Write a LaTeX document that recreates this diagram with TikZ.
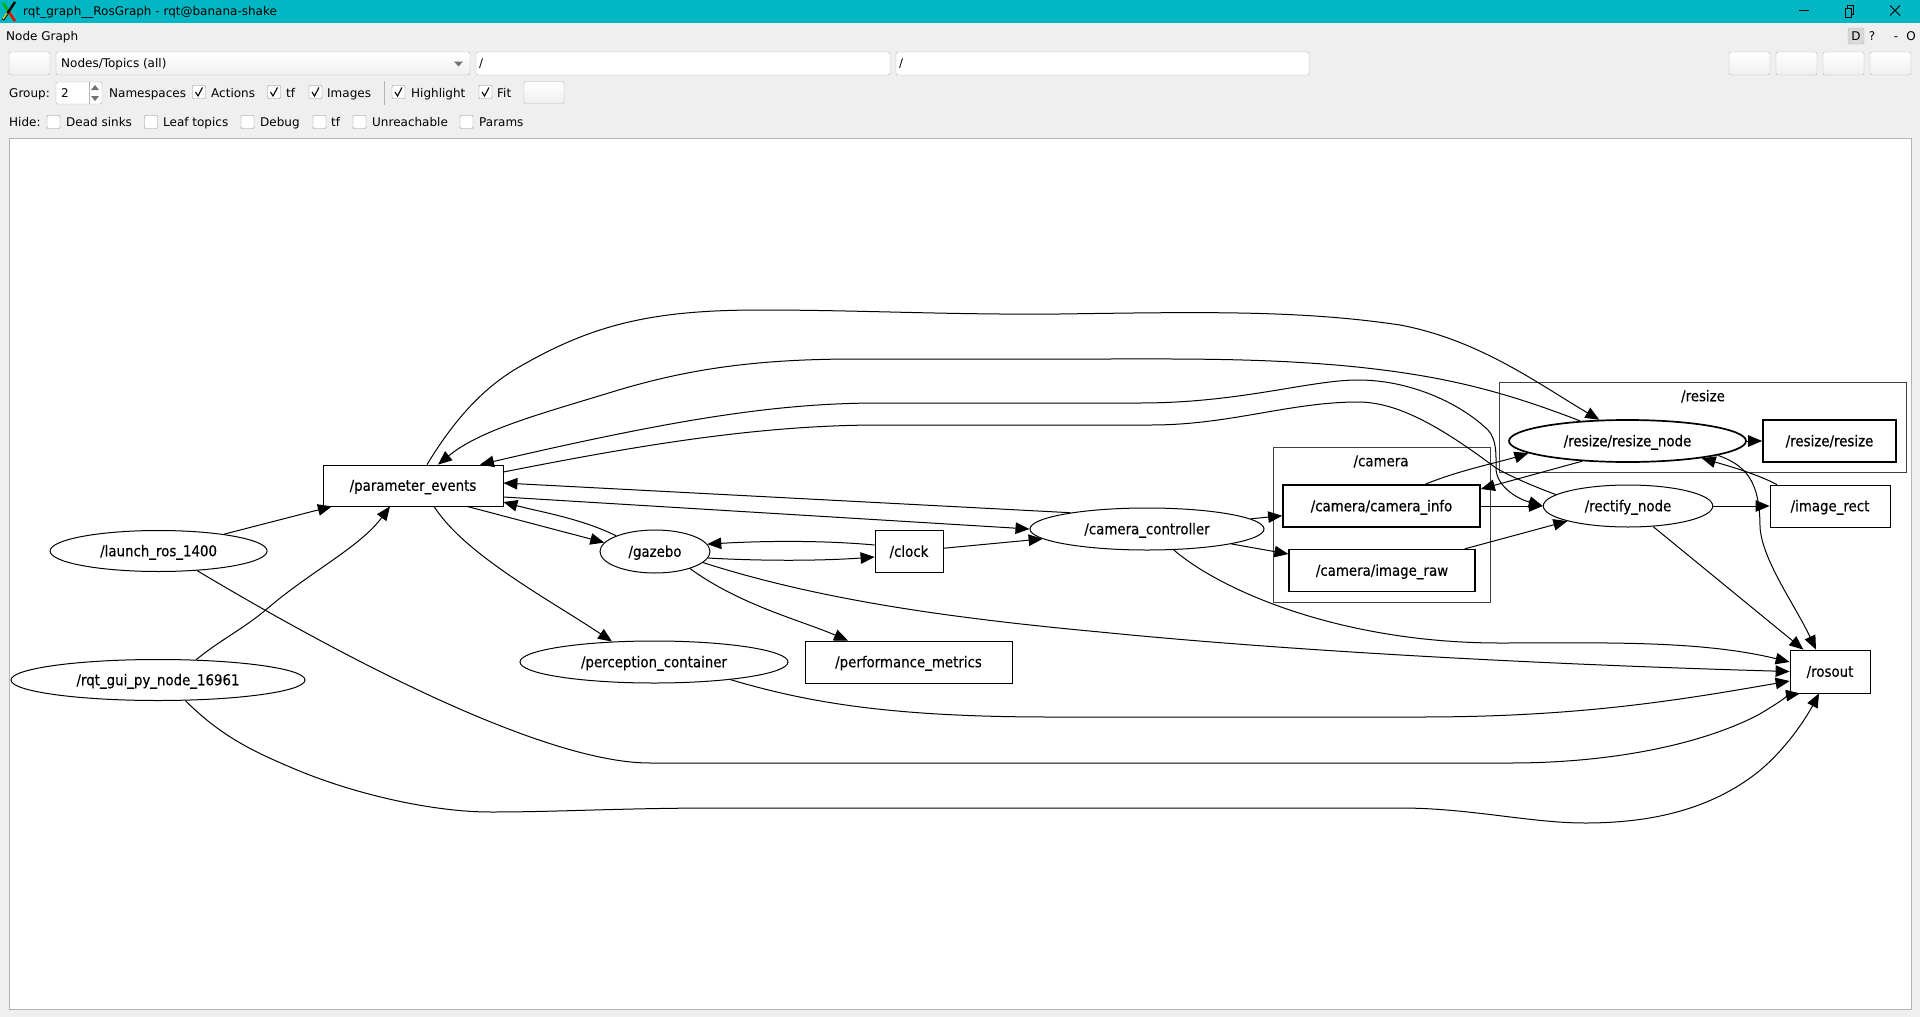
\documentclass[tikz,border=0pt]{standalone}
\usepackage{fontspec}
\usetikzlibrary{arrows.meta,shapes.geometric}
\setmainfont{DejaVu Sans}
\newfontfamily\graphfont{DejaVu Sans}[FakeStretch=0.89,FakeBold=0.25]
\newfontfamily\graphfontbold{DejaVu Sans}[FakeStretch=0.89,FakeBold=0.7]
\definecolor{titleteal}{HTML}{00B7C3}
\definecolor{windowgray}{HTML}{EFEFEF}
\definecolor{framegray}{HTML}{B4B4B4}
\tikzset{
  uitext/.style={anchor=west,inner sep=0pt,text height=11pt,text depth=2.5pt,font=\fontsize{12}{14}\selectfont},
  uibutton/.style={draw=framegray,rounded corners=2pt,top color=white,bottom color=windowgray,minimum height=23pt,inner sep=0pt},
  uientry/.style={draw=framegray,rounded corners=2pt,fill=white,minimum height=23pt,inner sep=0pt},
  checkbox/.style={draw=black!45,rounded corners=1pt,fill=white,minimum width=13pt,minimum height=13pt,inner sep=0pt},
  checkmark/.style={line width=1.1pt},
  graphtext/.style={font=\graphfont\fontsize{15}{17}\selectfont,text height=13pt,text depth=2.5pt,inner sep=0pt},
  topicbox/.style={graphtext,draw,line width=.8pt,rectangle},
  nodeoval/.style={graphtext,draw,line width=1pt,ellipse},
  highlighted/.style={line width=1.7pt,font=\graphfontbold\fontsize{15}{17}\selectfont},
  clusterbox/.style={draw=black!75,line width=.8pt,rectangle,inner sep=0pt},
  topicedge/.style={draw,line width=1pt,-{Triangle[length=14pt,width=11.5pt]}}
}
\begin{document}
\begin{tikzpicture}[x=1pt,y=-1pt]
\useasboundingbox (0,0) rectangle (1920,1017);
\fill[windowgray] (0,0) rectangle (1920,1017);
\fill[titleteal] (0,0) rectangle (1920,23);
\fill[white] (9,138) rectangle (1911,1009);
\draw[framegray] (9,138) rectangle (1911,1009);

\draw[line width=2.4pt,green!70!black] (3,3) -- (14,20);
\draw[line width=2.4pt,red] (9,12) -- (15,21);
\draw[line width=2.4pt,black] (15,2) -- (3,20);
\draw[line width=1.6pt,yellow!80!black] (3,19) -- (7,13);
\node[uitext] (window_title) at (23,11) {rqt\_graph\_\_RosGraph - rqt@banana-shake};
\draw[line width=.8pt] (1799,10.5) -- (1809,10.5);
\draw[line width=.8pt] (1845,8) rectangle (1851,17);
\draw[line width=.8pt] (1847,8) -- (1847,5.5) -- (1853,5.5) -- (1853,14) -- (1851,14);
\draw[line width=.8pt] (1890,5.5) -- (1900,15.5);
\draw[line width=.8pt] (1900,5.5) -- (1890,15.5);

\node[uitext] (plugin_title) at (6,36) {Node Graph};
\draw[framegray,rounded corners=1.5pt,fill=black!15] (1848,28) rectangle (1864,44);
\node[uitext,anchor=center] (help_d) at (1856,36) {D};
\node[uitext,anchor=center] (help_q) at (1872,36) {?};
\node[uitext,anchor=center] (help_dash) at (1896,36) {-};
\node[uitext,anchor=center] (help_o) at (1911,36) {O};

\node[uibutton,minimum width=41pt] (refresh_btn) at (29.5,63.5) {};
\node[uibutton,minimum width=414pt] (mode_combo) at (263,63.5) {};
\node[uitext] (mode_text) at (61,63.5) {Nodes/Topics (all)};
\fill[black!55] (454,61.5) -- (463,61.5) -- (458.5,66.5) -- cycle;
\node[uientry,minimum width=414pt] (ns_entry) at (683,63.5) {};
\node[uitext] (ns_text) at (479,63.5) {/};
\node[uientry,minimum width=413pt] (topic_entry) at (1102.5,63.5) {};
\node[uitext] (topic_text) at (899,63.5) {/};
\foreach \x/\name in {1749.5/load,1796.5/save,1843.5/png,1890.5/svg} {
  \node[uibutton,minimum width=41pt] (\name_btn) at (\x,63.5) {};
}

\node[uitext] (group_text) at (9,93) {Group:};
\node[uientry,minimum width=46pt,minimum height=22pt] (group_spin) at (79,93) {};
\node[uitext] (group_value) at (61,93) {2};
\draw[framegray] (89,82) -- (89,104);
\fill[black!55] (91,90) -- (99,90) -- (95,85) -- cycle;
\fill[black!55] (91,96) -- (99,96) -- (95,101) -- cycle;
\node[uitext] (namespaces_text) at (109,93) {Namespaces};
\foreach \x/\label/\tx/\name in {199/Actions/211/actions,274/tf/286/tf,315.5/Images/327/images,398.5/Highlight/411/highlight,485.5/Fit/497/fit} {
  \node[checkbox] (\name_chk) at (\x,92) {};
  \draw[checkmark] (\x-3.5,92) -- (\x-1,96) -- (\x+3.5,87.5);
  \node[uitext] (\name_text) at (\tx,93) {\label};
}
\draw[framegray] (384,81) -- (384,105);
\node[uibutton,minimum width=40pt,minimum height=22pt] (fit_btn) at (544,92.5) {};

\node[uitext] (hide_text) at (9,122) {Hide:};
\foreach \x/\label/\tx/\name in {53.5/Dead sinks/66/sinks,151/Leaf topics/163/leaf,247.5/Debug/260/debug,319.5/tf/331/hidetf,359.5/Unreachable/372/unreach,466.5/Params/479/params} {
  \node[checkbox] (\name_chk) at (\x,122) {};
  \node[uitext] (\name_text) at (\tx,122) {\label};
}

\node[clusterbox,minimum width=407.5pt,minimum height=90pt] (resize_cluster) at (1703,427) {};
\node[graphtext] (resize_label) at (1703,396) {/resize};
\node[clusterbox,minimum width=217pt,minimum height=155pt] (camera_cluster) at (1381.5,524.5) {};
\node[graphtext] (camera_label) at (1381,461) {/camera};

\node[topicbox,minimum width=180pt,minimum height=41pt] (parameter_events) at (413,485.5) {/parameter\_events};
\node[nodeoval,minimum width=217pt,minimum height=41pt] (launch_ros) at (158.6,551) {/launch\_ros\_1400};
\node[nodeoval,minimum width=294pt,minimum height=41pt] (rqt_gui) at (158,680) {/rqt\_gui\_py\_node\_16961};
\node[nodeoval,minimum width=110pt,minimum height=43pt] (gazebo) at (655,551.5) {/gazebo};
\node[topicbox,minimum width=68pt,minimum height=42pt] (clock) at (909,551.5) {/clock};
\node[nodeoval,minimum width=268pt,minimum height=42pt] (perception) at (654,662) {/perception\_container};
\node[topicbox,minimum width=207pt,minimum height=42pt] (performance) at (908.5,662) {/performance\_metrics};
\node[nodeoval,minimum width=234pt,minimum height=42pt] (camera_controller) at (1147,529) {/camera\_controller};
\node[topicbox,highlighted,minimum width=197pt,minimum height=42pt] (camera_info) at (1381.5,506) {/camera/camera\_info};
\node[topicbox,minimum width=186pt,minimum height=42pt,line width=1.2pt] (image_raw) at (1382,570.5) {/camera/image\_raw};
\node[nodeoval,highlighted,minimum width=237pt,minimum height=42pt] (resize_node) at (1627.5,441) {/resize/resize\_node};
\node[topicbox,highlighted,minimum width=133pt,minimum height=42pt] (resize_topic) at (1829.5,441) {/resize/resize};
\node[nodeoval,minimum width=169.5pt,minimum height=42pt] (rectify_node) at (1628,506) {/rectify\_node};
\node[topicbox,minimum width=120pt,minimum height=42pt] (image_rect) at (1830,506) {/image\_rect};
\node[topicbox,minimum width=80pt,minimum height=43pt] (rosout) at (1830,671.5) {/rosout};

\draw[topicedge] (launch_ros) -- (parameter_events);
\draw[topicedge] (rqt_gui.28) .. controls (220,640) and (245,628) .. (268,608) .. controls (310,572) and (360,547) .. ([xshift=-23pt]parameter_events.south);
\draw[topicedge] ([xshift=14pt]parameter_events.north) .. controls (460,410) and (490,385) .. (514,370) .. controls (590,325) and (650,310) .. (760,310) .. controls (860,310) and (950,315) .. (1060,314) .. controls (1200,312) and (1300,310) .. (1400,325) .. controls (1480,340) and (1540,385) .. (resize_node.143);
\draw[topicedge] (resize_node.157) .. controls (1500,390) and (1440,375) .. (1347,366) .. controls (1260,358) and (1180,359) .. (1102,359) .. controls (1000,359) and (930,359) .. (857,359) .. controls (760,359) and (690,368) .. (612,392) .. controls (540,414) and (480,430) .. ([xshift=25pt]parameter_events.north);
\draw[topicedge] (rectify_node.171) .. controls (1530,485) and (1510,476) .. (1496,468) .. controls (1496,455) and (1497,440) .. (1488,430) .. controls (1460,403) and (1410,380) .. (1358,380) .. controls (1310,380) and (1240,403) .. (1140,403) -- (880,403) .. controls (780,403) and (680,418) .. ([xshift=67pt]parameter_events.north);
\draw[topicedge] ([yshift=13.5pt]parameter_events.east) .. controls (640,445) and (760,425) .. (880,425) -- (1151,425) .. controls (1230,425) and (1290,402) .. (1358,402) .. controls (1400,402) and (1445,430) .. (1496,468) .. controls (1496,485) and (1515,498) .. (rectify_node.west);
\draw[topicedge] ([xshift=54pt]parameter_events.south) -- (gazebo.170);
\draw[topicedge] (gazebo.158) .. controls (580,518) and (540,512) .. ([yshift=-16.5pt]parameter_events.east);
\draw[topicedge] (camera_controller.168) -- ([yshift=2.5pt]parameter_events.east);
\draw[topicedge] ([yshift=-11.5pt]parameter_events.east) -- (camera_controller.west);
\draw[topicedge] ([yshift=6.5pt]clock.west) .. controls (820,540) and (760,541) .. (gazebo.8);
\draw[topicedge] (gazebo.-7) .. controls (760,561) and (820,561) .. ([yshift=-5.5pt]clock.west);
\draw[topicedge] (clock) -- (camera_controller);
\draw[topicedge] ([xshift=21pt]parameter_events.south) .. controls (465,555) and (550,600) .. (perception.154);
\draw[topicedge] (gazebo.-26) .. controls (740,605) and (800,620) .. ([xshift=-60.5pt]performance.north);
\draw[topicedge] (gazebo.-13) .. controls (820,600) and (950,618) .. (1100,632) .. controls (1300,652) and (1560,665) .. (rosout.west);
\draw[topicedge] (camera_controller.-38) .. controls (1220,590) and (1340,643) .. (1500,643) .. controls (1600,643) and (1700,640) .. ([yshift=9.5pt]rosout.west);
\draw[topicedge] (perception.-13) .. controls (800,700) and (880,717) .. (1050,717) -- (1420,717) .. controls (1580,717) and (1680,700) .. ([yshift=-9.5pt]rosout.west);
\draw[topicedge] (launch_ros.333) .. controls (330,650) and (540,763) .. (650,763) -- (1510,763) .. controls (1610,763) and (1700,745) .. (1758,715) .. controls (1775,705) and (1790,695) .. ([xshift=-30pt]rosout.south);
\draw[topicedge] (rqt_gui.323) .. controls (220,735) and (250,750) .. (290,767) .. controls (350,793) and (430,812) .. (491,812) .. controls (560,812) and (620,808) .. (720,808) -- (1400,808) .. controls (1470,808) and (1530,823) .. (1585,823) .. controls (1650,823) and (1710,810) .. (1758,772) .. controls (1785,750) and (1805,720) .. ([xshift=-11pt]rosout.south);
\draw[topicedge] (camera_controller) -- (camera_info);
\draw[topicedge] (camera_controller) -- (image_raw);
\draw[topicedge] ([xshift=44pt]camera_info.north) .. controls (1460,470) and (1500,462) .. (resize_node.187);
\draw[topicedge] (resize_node.204) -- ([yshift=17pt]camera_info.east);
\draw[topicedge] (camera_info) -- (rectify_node);
\draw[topicedge] ([xshift=82.6pt]image_raw.north) -- (rectify_node.194);
\draw[topicedge] (rectify_node) -- (image_rect);
\draw[topicedge] (rectify_node) -- (rosout);
\draw[topicedge] ([xshift=-53pt]image_rect.north) .. controls (1755,473) and (1725,465) .. (resize_node.347);
\draw[topicedge] (resize_node.351) .. controls (1745,465) and (1760,480) .. (1760,527) .. controls (1762,560) and (1795,605) .. ([xshift=-14pt]rosout.north);
\draw[topicedge] (resize_node) -- (resize_topic);
\end{tikzpicture}
\end{document}
